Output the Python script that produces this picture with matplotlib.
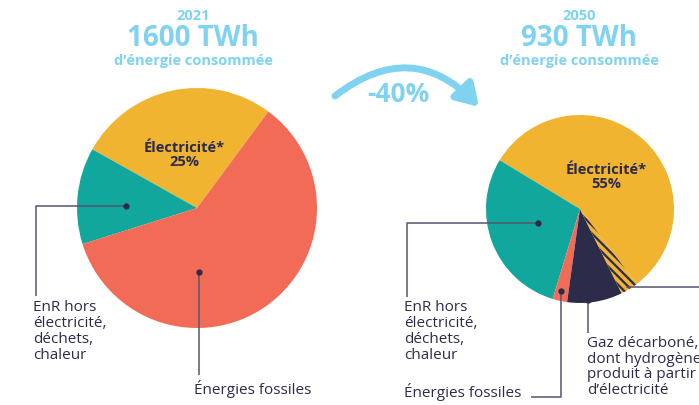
import matplotlib
matplotlib.use("Agg")
import matplotlib.pyplot as plt
from matplotlib.patches import FancyArrowPatch

plt.rcParams['font.family'] = ['Open Sans', 'DejaVu Sans']
plt.rcParams['hatch.linewidth'] = 1.6

W, H = 699, 405

# 2021
labels_2021 = ["Électricité", "EnR hors électricité", "Énergies fossiles"]
values_2021 = [27, 13, 60]
colors_2021 = ["#f0b431", "#12a79c", "#f26b56"]

# 2050
labels_2050 = ["Électricité", "EnR hors électricité", "Énergies fossiles",
               "Gaz décarboné", "Hydrogène (électricité)"]
values_2050 = [56, 29, 2.5, 9.5, 3]
colors_2050 = ["#f0b431", "#12a79c", "#f26b56", "#2c2b4a", "#f0b431"]

BLUE = "#80d3f0"
NAVY = "#2c2b4a"
LINE = "#55556f"


def Y(y):
    return H - y


fig = plt.figure(figsize=(W / 100, H / 100), dpi=100)
ax = fig.add_axes([0, 0, 1, 1])

ax.pie(values_2021, colors=colors_2021, startangle=53.5, counterclock=True,
       center=(197, Y(208)), radius=120, wedgeprops=dict(linewidth=0))
w2, _ = ax.pie(values_2050, colors=colors_2050, startangle=-52.9, counterclock=True,
               center=(580, Y(209)), radius=94, wedgeprops=dict(linewidth=0))
w2[-1].set_hatch('\\\\\\\\')
w2[-1].set_edgecolor(NAVY)
w2[-1].set_linewidth(0)

ax.set_xlim(0, W)
ax.set_ylim(0, H)
ax.set_aspect('equal')
ax.axis('off')

# titles
for x, year, total in [(193, "2021", "1600 TWh"), (579, "2050", "930 TWh")]:
    ax.text(x, Y(16), year, color=BLUE, fontsize=10.5, fontweight='bold', ha='center', va='center')
    ax.text(x, Y(38), total, color=BLUE, fontsize=20, fontweight='bold', ha='center', va='center')
    ax.text(x, Y(61), "d’énergie consommée", color=BLUE, fontsize=10.5, fontweight='bold',
            ha='center', va='center')

# arrow -40%
arr = FancyArrowPatch((335, Y(96)), (479, Y(107)), connectionstyle="arc3,rad=-0.45",
                      arrowstyle="-|>,head_length=13,head_width=8", mutation_scale=1,
                      color=BLUE, lw=5, shrinkA=0, shrinkB=0, capstyle='round')
ax.add_patch(arr)
ax.text(398, Y(94), "-40%", color=BLUE, fontsize=19, fontweight='bold', ha='center', va='center')

# labels inside pies
ax.text(184, Y(155), "Électricité*\n25%", color=NAVY, fontsize=10.5, fontweight='bold',
        ha='center', va='center', linespacing=1.05)
ax.text(606, Y(177), "Électricité*\n55%", color=NAVY, fontsize=10.5, fontweight='bold',
        ha='center', va='center', linespacing=1.05)


def leader(xs, ys):
    ax.plot(xs, [Y(v) for v in ys], color=LINE, lw=1.1, solid_capstyle='butt')
    ax.plot(xs[0], Y(ys[0]), 'o', color=NAVY, ms=3.5)


# 2021 leaders
leader([126, 36, 36], [206, 206, 296])
ax.text(33, Y(300), "EnR hors\nélectricité,\ndéchets,\nchaleur", color=NAVY, fontsize=11,
        ha='left', va='top', linespacing=1.1)
leader([199, 199], [272, 375])
ax.text(194, Y(389), "Énergies fossiles", color=NAVY, fontsize=11, ha='left', va='center')

# 2050 leaders
leader([538, 407, 407], [223, 223, 297])
ax.text(404, Y(300), "EnR hors\nélectricité,\ndéchets,\nchaleur", color=NAVY, fontsize=11,
        ha='left', va='top', linespacing=1.1)
leader([561, 561, 531], [291, 397, 397])
ax.text(404, Y(392), "Énergies fossiles", color=NAVY, fontsize=11, ha='left', va='center')
leader([588, 588], [300, 333])
ax.text(587, Y(336), "Gaz décarboné,\ndont hydrogène\nproduit à partir\nd’électricité", color=NAVY,
        fontsize=11, ha='left', va='top', linespacing=1.06)
ax.plot([627, W], [Y(287), Y(287)], color=LINE, lw=1.1)

fig.savefig("out.png", dpi=100)
